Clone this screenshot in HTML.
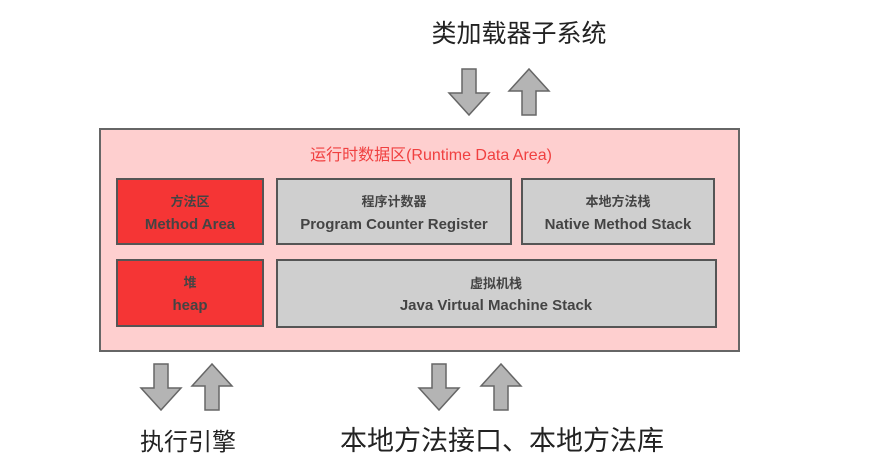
<!DOCTYPE html>
<html><head><meta charset="utf-8"><style>
body{margin:0;background:#fff;}
svg{display:block;font-family:"Liberation Sans","Noto Sans CJK SC",sans-serif;}
</style></head><body>
<svg width="873" height="476" viewBox="0 0 873 476">
<defs>
<g id="dn"><polygon points="-7,0 7,0 7,24 20,24 0,46 -20,24 -7,24" fill="#b4b4b4" stroke="#666" stroke-width="1.5"/></g>
<g id="up"><polygon points="-7,46 7,46 7,22 20,22 0,0 -20,22 -7,22" fill="#b4b4b4" stroke="#666" stroke-width="1.5"/></g>
</defs>
<text x="519" y="42" font-size="25" text-anchor="middle" fill="#222">类加载器子系统</text>
<use href="#dn" x="469" y="69"/>
<use href="#up" x="529" y="69"/>
<rect x="100" y="129" width="639" height="222" fill="#fecfcf" stroke="#666" stroke-width="2"/>
<text x="431" y="160" font-size="16" text-anchor="middle" fill="#f04040">运行时数据区(Runtime Data Area)</text>
<g stroke="#555" stroke-width="2">
<rect x="117" y="179" width="146" height="65" fill="#f53535"/>
<rect x="277" y="179" width="234" height="65" fill="#cfcfcf"/>
<rect x="522" y="179" width="192" height="65" fill="#cfcfcf"/>
<rect x="117" y="260" width="146" height="66" fill="#f53535"/>
<rect x="277" y="260" width="439" height="67" fill="#cfcfcf"/>
</g>
<g font-size="15" font-weight="bold" fill="#444" text-anchor="middle">
<text x="190" y="206" font-size="13">方法区</text><text x="190" y="229">Method Area</text>
<text x="394" y="206" font-size="13">程序计数器</text><text x="394" y="229">Program Counter Register</text>
<text x="618" y="206" font-size="13">本地方法栈</text><text x="618" y="229">Native Method Stack</text>
<text x="190" y="287" font-size="13">堆</text><text x="190" y="310">heap</text>
<text x="496" y="288" font-size="13">虚拟机栈</text><text x="496" y="310">Java Virtual Machine Stack</text>
</g>
<use href="#dn" x="161" y="364"/>
<use href="#up" x="212" y="364"/>
<use href="#dn" x="439" y="364"/>
<use href="#up" x="501" y="364"/>
<text x="188" y="450" font-size="24" text-anchor="middle" fill="#222">执行引擎</text>
<text x="502" y="450" font-size="27" text-anchor="middle" fill="#222">本地方法接口、本地方法库</text>
</svg>
</body></html>
